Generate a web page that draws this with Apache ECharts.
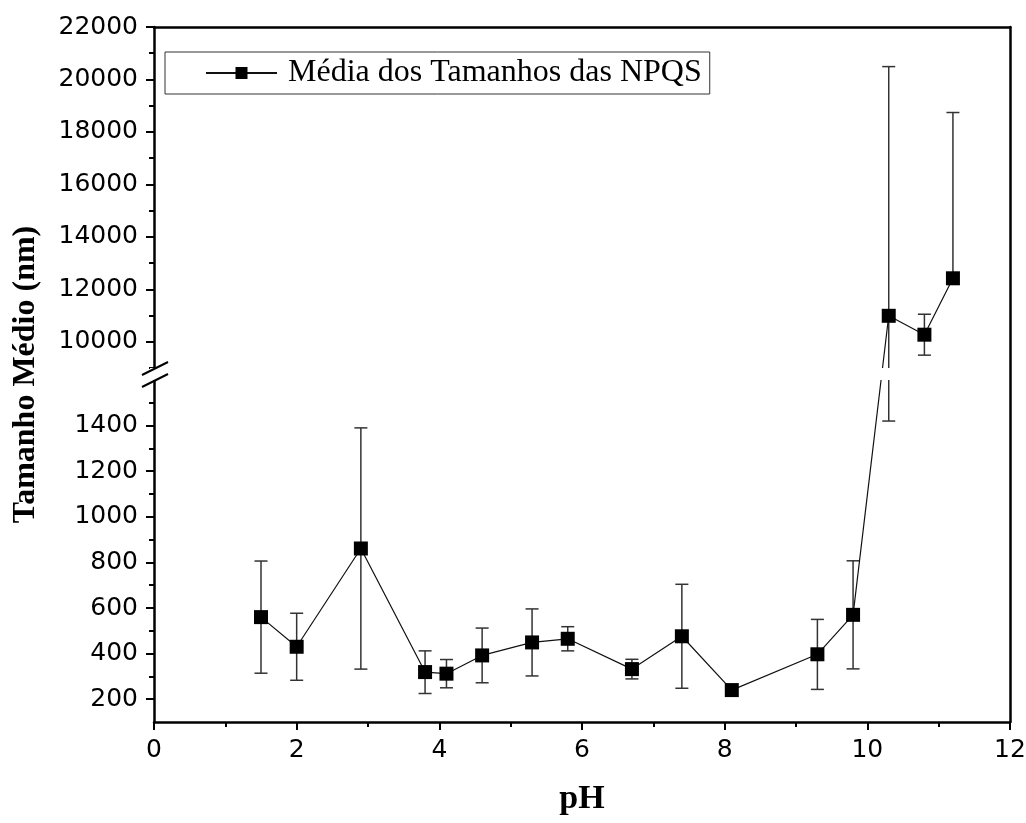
<!DOCTYPE html>
<html>
<head>
<meta charset="utf-8">
<script src="https://cdn.jsdelivr.net/npm/echarts@6/dist/echarts.min.js"></script>
<style>html,body{margin:0;padding:0;background:#fff}#c{width:1026px;height:823px}</style>
</head>
<body>
<div id="c"></div>
<script>
// ---- data ----
const seriesName = 'Média dos Tamanhos das NPQS';
const phValues  = [1.5, 2.0, 2.9, 3.8, 4.1, 4.6, 5.3, 5.8, 6.7, 7.4, 8.1, 9.3, 9.8, 10.3, 10.8, 11.2];
const meanSize  = [560, 430, 861, 319, 312, 392, 449, 465, 332, 476, 240, 397, 570, 10990, 10270, 12420];
const errUp     = [246, 147, 529, 93, 62, 120, 147, 53, 43, 228, 0, 153, 237, 9500, 780, 6320];
const errDown   = [246, 147, 529, 94, 62, 120, 147, 53, 43, 228, 0, 154, 237, 9570, 780, 0];

const xTicks      = [0, 2, 4, 6, 8, 10, 12];
const yTicksLow   = [200, 400, 600, 800, 1000, 1200, 1400];
const yTicksHigh  = [10000, 12000, 14000, 16000, 18000, 20000, 22000];
const yMinorLow   = [300, 500, 700, 900, 1100, 1300, 1500];
const yMinorHigh  = [9000, 11000, 13000, 15000, 17000, 19000, 21000];
const lowRange    = [100, 1600];
const highRange   = [9000, 22000];

// ---- broken-axis scale (segment pixel sizes) ----
const SEG = { low: 342, gap: 12, high: 341 };
const VMAX = SEG.low + SEG.gap + SEG.high;
function fwd(y) {
  if (y <= lowRange[1]) return (y - lowRange[0]) / (lowRange[1] - lowRange[0]) * SEG.low;
  if (y >= highRange[0]) return SEG.low + SEG.gap + (y - highRange[0]) / (highRange[1] - highRange[0]) * SEG.high;
  return SEG.low + (y - lowRange[1]) / (highRange[0] - lowRange[1]) * SEG.gap;
}
function inv(v) {
  if (v <= SEG.low + 1e-6) return lowRange[0] + v / SEG.low * (lowRange[1] - lowRange[0]);
  if (v >= SEG.low + SEG.gap - 1e-6) return highRange[0] + (v - SEG.low - SEG.gap) / SEG.high * (highRange[1] - highRange[0]);
  return lowRange[1] + (v - SEG.low) / SEG.gap * (highRange[0] - lowRange[1]);
}

const majorY = yTicksLow.concat(yTicksHigh).map(fwd);
const minorY = yMinorLow.concat(yMinorHigh).map(fwd);

const lineData = phValues.map((x, i) => [x, fwd(meanSize[i])]);
const errData = phValues.map((x, i) => [x, fwd(meanSize[i]), fwd(meanSize[i] + errUp[i]), fwd(meanSize[i] - errDown[i]), errUp[i], errDown[i]]);

const labelFont = 'DejaVu Sans';
const serif = '"Liberation Serif", "Times New Roman", serif';
const AX = 2.5;

const chart = echarts.init(document.getElementById('c'), null, { renderer: 'canvas' });
chart.setOption({
  animation: false,
  backgroundColor: '#fff',
  grid: { left: 154, right: 16, top: 27, bottom: 101, outerBoundsMode: 'none', containLabel: false },
  legend: {
    data: [seriesName],
    left: 165, top: 52,
    padding: [5, 8, 5, 40],
    borderColor: '#333', borderWidth: 1,
    itemWidth: 71, itemHeight: 15,
    textStyle: { fontFamily: serif, fontSize: 32, color: '#000', padding: [0, 0, 0, 6] },
    selectedMode: false
  },
  xAxis: [
    {
      type: 'value', min: 0, max: 12, interval: 2, position: 'bottom',
      name: 'pH', nameLocation: 'middle', nameGap: 60,
      nameTextStyle: { fontFamily: serif, fontWeight: 'bold', fontSize: 34, color: '#000' },
      axisLine: { show: true, onZero: false, lineStyle: { color: '#000', width: AX } },
      axisTick: { show: true, inside: false, length: 8, lineStyle: { color: '#000', width: 2 } },
      minorTick: { show: true, splitNumber: 2, length: 5, lineStyle: { color: '#000', width: 2 } },
      axisLabel: { fontFamily: labelFont, fontSize: 25, color: '#000', margin: 16 },
      splitLine: { show: false }, minorSplitLine: { show: false }
    },
    {
      type: 'value', min: 0, max: 12, position: 'top',
      axisLine: { show: true, onZero: false, lineStyle: { color: '#000', width: AX } },
      axisTick: { show: false }, axisLabel: { show: false }, splitLine: { show: false }
    }
  ],
  yAxis: [
    {
      type: 'value', min: 0, max: VMAX, position: 'left',
      name: 'Tamanho Médio (nm)', nameLocation: 'middle', nameGap: 112,
      nameTextStyle: { fontFamily: serif, fontWeight: 'bold', fontSize: 32, color: '#000' },
      axisLine: { show: true, onZero: false, lineStyle: { color: '#000', width: AX } },
      axisTick: { show: true, inside: false, length: 8, customValues: majorY, lineStyle: { color: '#000', width: 2 } },
      axisLabel: {
        fontFamily: labelFont, fontSize: 25, color: '#000', margin: 16,
        customValues: majorY,
        formatter: v => String(Math.round(inv(v) / 100) * 100)
      },
      splitLine: { show: false }
    },
    {
      type: 'value', min: 0, max: VMAX, position: 'left',
      axisLine: { show: false },
      axisTick: { show: true, inside: false, length: 5, customValues: minorY, lineStyle: { color: '#000', width: 2 } },
      axisLabel: { show: false }, splitLine: { show: false }
    },
    {
      type: 'value', min: 0, max: VMAX, position: 'right',
      axisLine: { show: true, onZero: false, lineStyle: { color: '#000', width: AX } },
      axisTick: { show: false }, axisLabel: { show: false }, splitLine: { show: false }
    }
  ],
  series: [
    {
      type: 'custom', name: 'err', xAxisIndex: 0, yAxisIndex: 0, clip: true,
      data: errData,
      renderItem: function (params, api) {
        const x = api.value(0);
        const top = api.coord([x, api.value(2)]);
        const bot = api.coord([x, api.value(3)]);
        const ctr = api.coord([x, api.value(1)]);
        const st = { stroke: '#333', lineWidth: 1.5 };
        const hw = 6.5;
        const children = [];
        if (api.value(4) > 0) {
          children.push({ type: 'line', shape: { x1: ctr[0], y1: ctr[1], x2: top[0], y2: top[1] }, style: st });
          children.push({ type: 'line', shape: { x1: top[0] - hw, y1: top[1], x2: top[0] + hw, y2: top[1] }, style: st });
        }
        if (api.value(5) > 0) {
          children.push({ type: 'line', shape: { x1: ctr[0], y1: ctr[1], x2: bot[0], y2: bot[1] }, style: st });
          children.push({ type: 'line', shape: { x1: bot[0] - hw, y1: bot[1], x2: bot[0] + hw, y2: bot[1] }, style: st });
        }
        return { type: 'group', children: children };
      }
    },
    {
      type: 'line', name: seriesName, xAxisIndex: 0, yAxisIndex: 0,
      data: lineData,
      symbol: 'rect', symbolSize: 14,
      itemStyle: { color: '#000' },
      lineStyle: { color: '#111', width: 1.2 },
      emphasis: { disabled: true }
    }
  ]
});

// decorations for the axis break (positions derived from the axes)
const pLowTop = chart.convertToPixel({ xAxisIndex: 0, yAxisIndex: 0 }, [0, fwd(lowRange[1])]);
const pHighBot = chart.convertToPixel({ xAxisIndex: 0, yAxisIndex: 0 }, [0, fwd(highRange[0])]);
const pRight = chart.convertToPixel({ xAxisIndex: 0, yAxisIndex: 0 }, [12, 0]);
const x0 = pLowTop[0];
const yA = pHighBot[1], yB = pLowTop[1];
const yc = (yA + yB) / 2;
chart.setOption({
  graphic: [
    { type: 'rect', z: 100, shape: { x: x0 - 4, y: yA, width: pRight[0] - x0 + 1, height: yB - yA }, style: { fill: '#fff' } },
    { type: 'line', z: 101, shape: { x1: x0 - 12, y1: yc + 1, x2: x0 + 14, y2: yc - 12 }, style: { stroke: '#000', lineWidth: 2 } },
    { type: 'line', z: 101, shape: { x1: x0 - 12, y1: yc + 13, x2: x0 + 14, y2: yc }, style: { stroke: '#000', lineWidth: 2 } }
  ]
});
</script>
</body>
</html>
